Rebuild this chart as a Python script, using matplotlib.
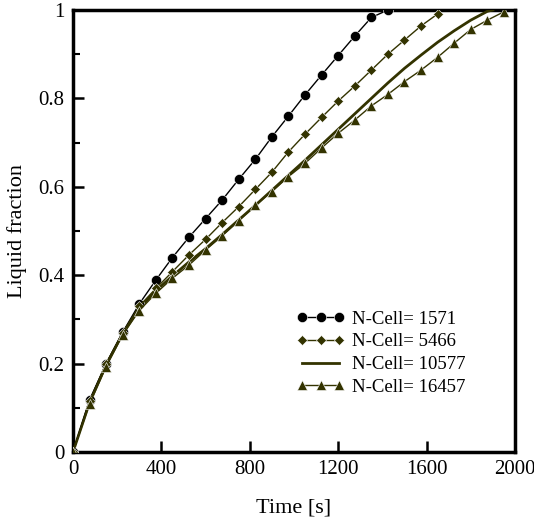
import matplotlib
matplotlib.use("Agg")
import matplotlib.pyplot as plt
from matplotlib.ticker import MultipleLocator

# time axis for the marked series (one sample every 75 s)
t_1571 = [0, 75, 150, 225, 300, 375, 450, 525, 600, 675, 750, 825, 900,
          975, 1050, 1125, 1200, 1275, 1350, 1425]
lf_1571 = [0, 0.118, 0.200, 0.271, 0.335, 0.389, 0.440, 0.486, 0.528, 0.570,
           0.617, 0.662, 0.713, 0.760, 0.808, 0.853, 0.897, 0.941, 0.983, 1.0]

t_5466 = [0, 75, 150, 225, 300, 375, 450, 525, 600, 675, 750, 825, 900,
          975, 1050, 1125, 1200, 1275, 1350, 1425, 1500, 1575, 1650]
lf_5466 = [0, 0.115, 0.200, 0.270, 0.330, 0.370, 0.408, 0.446, 0.481, 0.519,
           0.555, 0.594, 0.633, 0.679, 0.719, 0.757, 0.794, 0.828, 0.864,
           0.900, 0.932, 0.964, 0.991]

t_10577 = [0, 75, 150, 225, 300, 375, 450, 525, 600, 675, 750, 825, 900,
           975, 1050, 1125, 1200, 1275, 1350, 1425, 1500, 1575, 1650, 1725,
           1800, 1875, 1900]
lf_10577 = [0, 0.112, 0.197, 0.268, 0.325, 0.365, 0.398, 0.430, 0.460, 0.492,
            0.525, 0.558, 0.592, 0.626, 0.660, 0.695, 0.730, 0.765, 0.800,
            0.835, 0.868, 0.898, 0.927, 0.953, 0.977, 0.997, 1.0]

t_16457 = [0, 75, 150, 225, 300, 375, 450, 525, 600, 675, 750, 825, 900,
           975, 1050, 1125, 1200, 1275, 1350, 1425, 1500, 1575, 1650, 1725,
           1800, 1875, 1950]
lf_16457 = [0, 0.109, 0.193, 0.265, 0.320, 0.359, 0.393, 0.423, 0.457, 0.489,
            0.523, 0.559, 0.589, 0.623, 0.653, 0.688, 0.721, 0.751, 0.783,
            0.809, 0.838, 0.864, 0.893, 0.925, 0.956, 0.977, 0.996]

OLIVE = "#333300"

plt.rcParams["font.family"] = ["Liberation Serif", "DejaVu Serif"]

fig = plt.figure(figsize=(5.34, 5.20), dpi=100)
ax = fig.add_axes([0.1367, 0.1308, 0.9644 - 0.1367, 0.9808 - 0.1308])

ax.plot(t_1571, lf_1571, color="black", lw=1.0, marker="o", ms=7.3,
        mfc="black", mec="white", mew=0.4, label="N-Cell= 1571", zorder=4)
ax.plot(t_5466, lf_5466, color=OLIVE, lw=1.0, marker="D", ms=5.4,
        mfc=OLIVE, mec="white", mew=0.4, label="N-Cell= 5466", zorder=4)
ax.plot(t_10577, lf_10577, color=OLIVE, lw=2.0, label="N-Cell= 10577",
        zorder=3)
ax.plot(t_16457, lf_16457, color=OLIVE, lw=1.0, marker="^", ms=7.3,
        mfc=OLIVE, mec="white", mew=0.4, label="N-Cell= 16457", zorder=4)

ax.set_xlim(0, 2000)
ax.set_ylim(0, 1)
ax.xaxis.set_major_locator(MultipleLocator(400))
ax.yaxis.set_major_locator(MultipleLocator(0.2))
ax.yaxis.set_minor_locator(MultipleLocator(0.1))
ax.yaxis.set_major_formatter(plt.FuncFormatter(lambda v, p: f"{v:g}"))

ax.tick_params(axis="both", which="major", direction="in", length=8,
               width=1.8, labelsize=15, top=False, right=False, pad=6)
ax.tick_params(axis="y", which="minor", direction="in", length=5, width=1.5)
for sp in ax.spines.values():
    sp.set_linewidth(2.5)

ax.set_xlabel("Time [s]", fontsize=16, labelpad=14)
ax.set_ylabel("Liquid fraction", fontsize=16, labelpad=8)

ax.legend(loc="upper left", bbox_to_anchor=(0.505, 0.32), frameon=False,
          fontsize=13.5, numpoints=3, handlelength=2.6, handletextpad=0.35,
          borderpad=0, borderaxespad=0, labelspacing=0.3)

fig.savefig("out.png", dpi=100)
